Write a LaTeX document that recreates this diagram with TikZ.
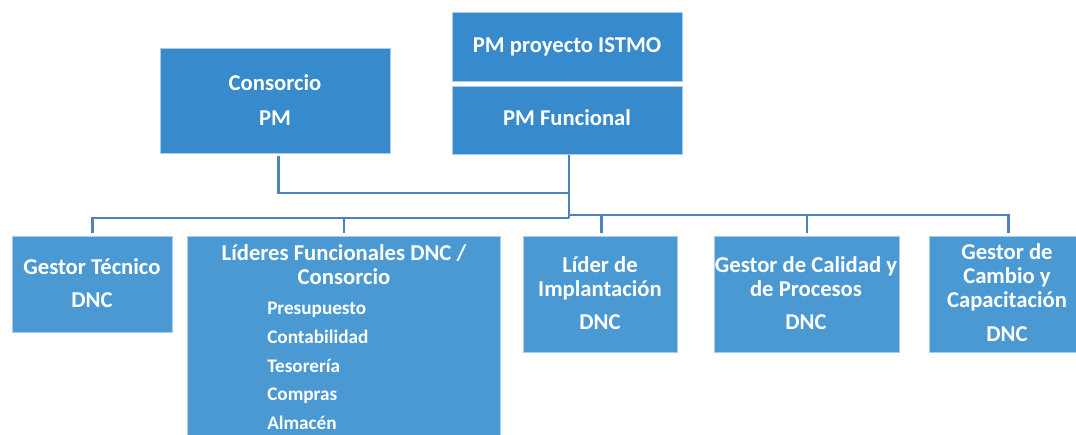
\documentclass[tikz,border=0pt]{standalone}
\usepackage{fontspec}
\setmainfont{Carlito}
\definecolor{topblue}{RGB}{55,138,203}
\definecolor{botblue}{RGB}{75,153,210}
\definecolor{edgeblue}{RGB}{170,205,235}
\definecolor{linkblue}{RGB}{79,129,189}
\tikzset{
  box/.style={fill=#1, draw=edgeblue, line width=0.5pt, inner sep=0pt, anchor=north west},
  lbl/.style={text=white, font=\bfseries\fontsize{17}{18}\selectfont, align=center, inner sep=0pt},
  item/.style={text=white, font=\bfseries\fontsize{14.4}{21.5}\selectfont, align=left, inner sep=0pt, anchor=west},
  link/.style={draw=linkblue, line width=1.8pt},
}
\begin{document}
\begin{tikzpicture}[x=0.75pt,y=-0.75pt]
\useasboundingbox (0,0) rectangle (1076,435);
% top boxes
\node[box=topblue, minimum width=230*0.75pt, minimum height=105*0.75pt] (cons) at (160,48) {};
\node[box=topblue, minimum width=230*0.75pt, minimum height=69*0.75pt] (istmo) at (452,12) {};
\node[box=topblue, minimum width=230*0.75pt, minimum height=68*0.75pt] (fun) at (452,86) {};
% bottom boxes
\node[box=botblue, minimum width=160*0.75pt, minimum height=96*0.75pt] (gt) at (12,236) {};
\node[box=botblue, minimum width=313*0.75pt, minimum height=215*0.75pt] (lf) at (187,236) {};
\node[box=botblue, minimum width=154*0.75pt, minimum height=116*0.75pt] (li) at (523,236) {};
\node[box=botblue, minimum width=185*0.75pt, minimum height=116*0.75pt] (gc) at (714,236) {};
\node[box=botblue, minimum width=158*0.75pt, minimum height=116*0.75pt] (gm) at (929,236) {};
% labels
\node[lbl] (tcons) at (275,100.5) {Consorcio\\[8.25pt]PM};
\node[lbl] (tistmo) at (567,47) {PM proyecto ISTMO};
\node[lbl] (tfun) at (567,118) {PM Funcional};
\node[lbl] (tgt) at (92,283.5) {Gestor Técnico\\[6.75pt]DNC};
\node[lbl] (tlf) at (344,265) {Líderes Funcionales DNC /\\Consorcio};
\node[item] (items) at (267,366) {Presupuesto\\Contabilidad\\Tesorería\\Compras\\Almacén};
\node[lbl] (tli) at (600,293.5) {Líder de\\Implantación\\[6.75pt]DNC};
\node[lbl] (tgc) at (806,293.5) {Gestor de Calidad y\\de Procesos\\[6.75pt]DNC};
\node[lbl] (tgm) at (1007,292.5) {Gestor de\\Cambio y\\Capacitación\\[7.5pt]DNC};
% connectors
\coordinate (j) at (569,193);
\coordinate (busL) at (569,218);
\coordinate (busR) at (569,215);
\draw[link] ([xshift=2.25pt,yshift=-1.5pt]cons.south) |- (j);
\draw[link] (fun.south -| j) -- (busL);
\draw[link] (busL) -| ([yshift=2.5pt]gt.north);
\draw[link] (busL) -| ([yshift=2.5pt]lf.north);
\draw[link] (busR) -| ([xshift=0.75pt,yshift=2.5pt]li.north);
\draw[link] (busR) -| ([yshift=2.5pt]gc.north);
\draw[link] (busR) -| ([yshift=2.5pt]gm.north);
\end{tikzpicture}
\end{document}
